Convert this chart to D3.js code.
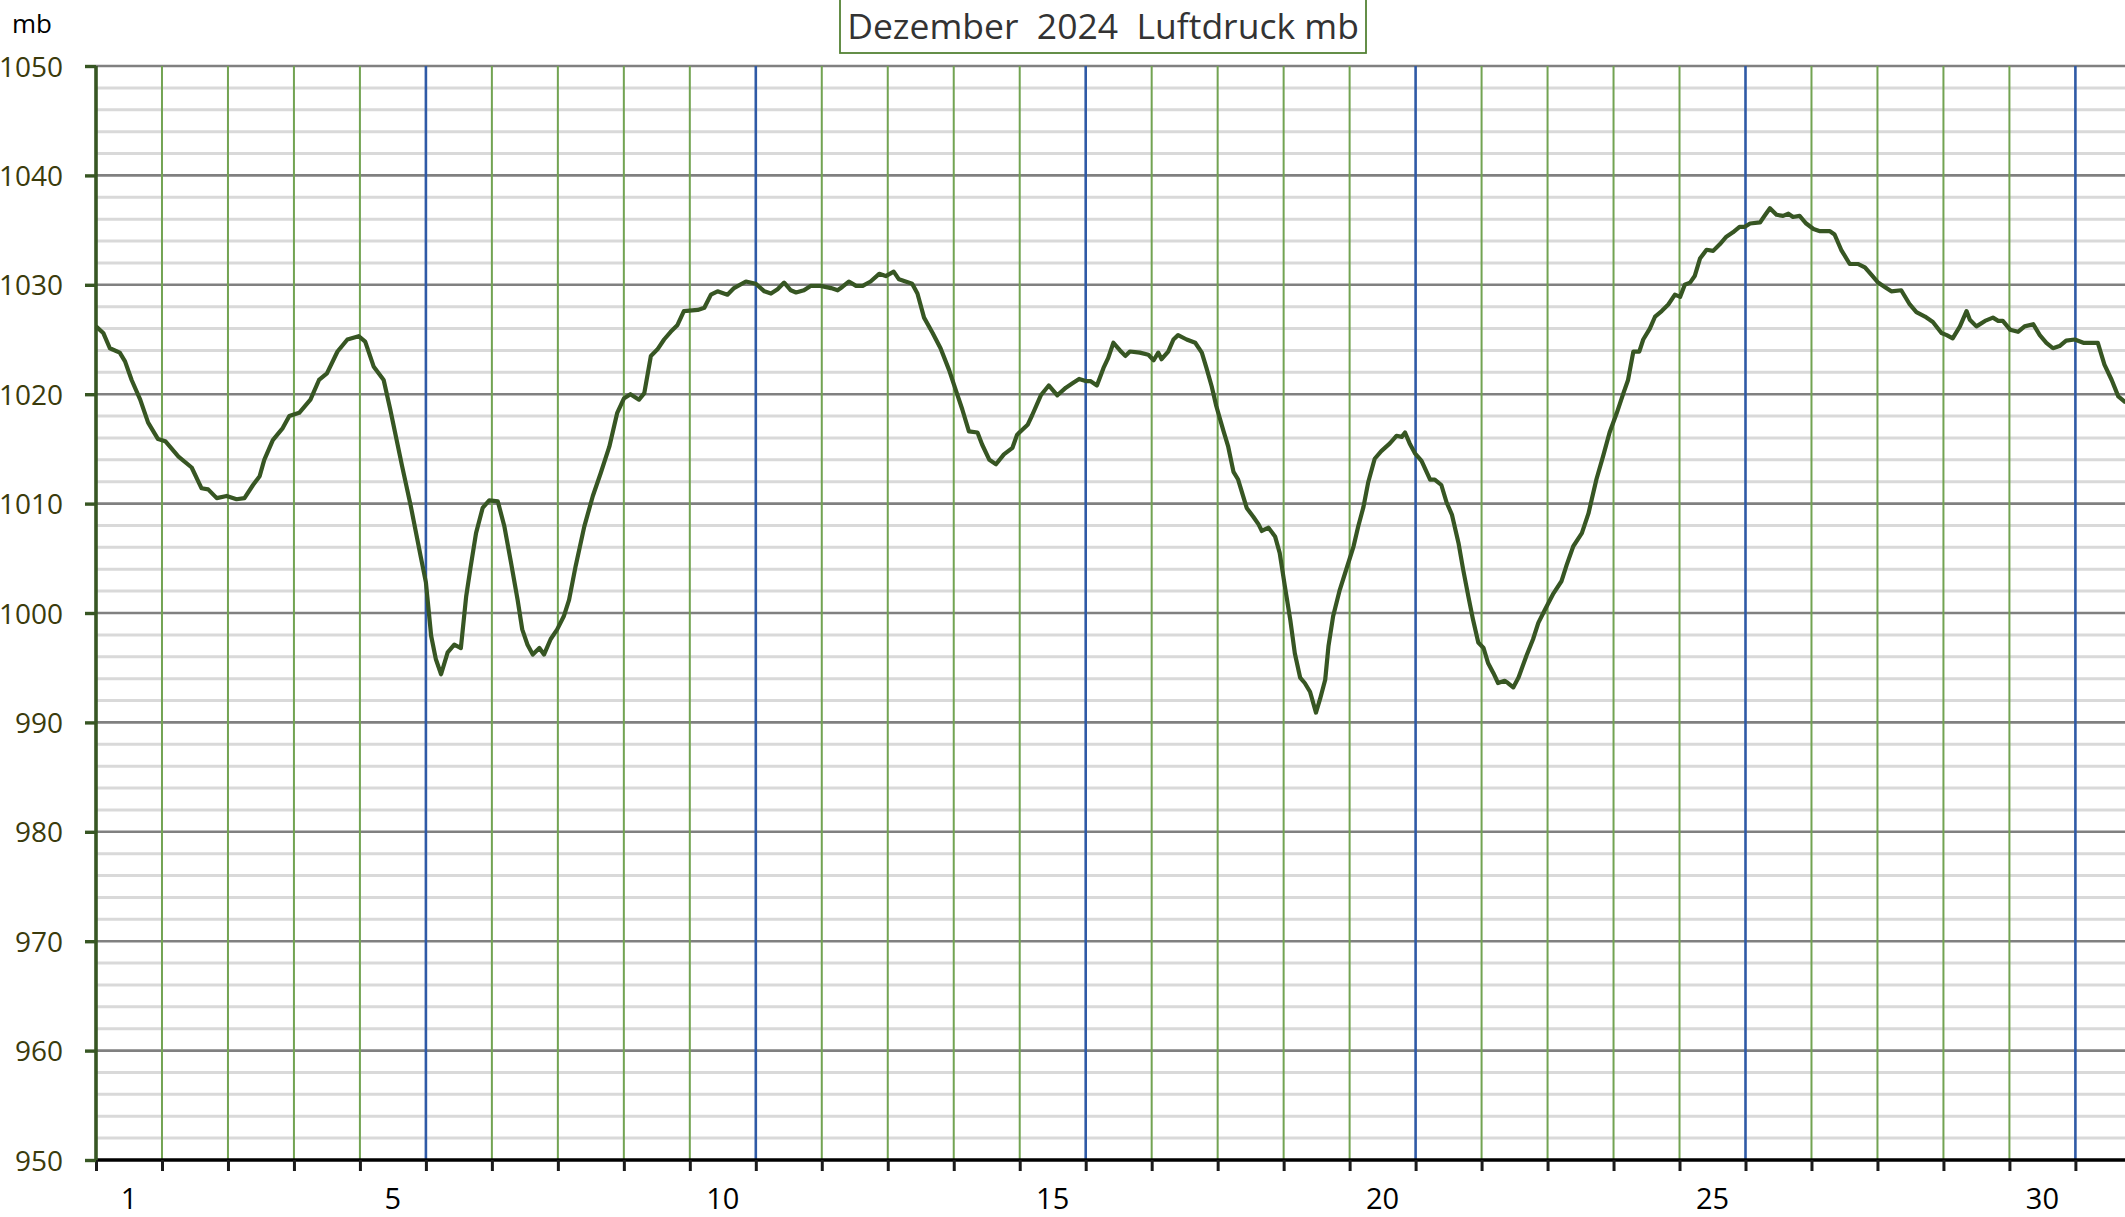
<!DOCTYPE html>
<html>
<head>
<meta charset="utf-8">
<script src="https://cdn.jsdelivr.net/npm/d3@7"></script>
<style>
  html, body { margin: 0; padding: 0; background: #ffffff; }
  svg { display: block; }
  text { font-family: "Open Sans", "Noto Sans", sans-serif; }
</style>
</head>
<body>
<svg id="chart" width="2125" height="1217"></svg>
<script>
// Air pressure record, December 2024 (time in days since 1 Dec 00:00, pressure in mb)
const dayOffsets = [
  0.00, 0.11, 0.21, 0.36, 0.44, 0.54, 0.67, 0.79, 0.94, 1.05, 1.25, 1.45, 1.60, 1.70, 1.83, 1.98,
  2.13, 2.25, 2.38, 2.48, 2.55, 2.68, 2.83, 2.93, 3.08, 3.25, 3.38, 3.50, 3.66, 3.81, 3.98, 4.08,
  4.21, 4.36, 4.46, 4.64, 4.77, 4.92, 5.00, 5.08, 5.15, 5.23, 5.33, 5.43, 5.53, 5.61, 5.68, 5.76,
  5.86, 5.96, 6.09, 6.19, 6.29, 6.39, 6.46, 6.54, 6.62, 6.72, 6.79, 6.89, 6.99, 7.09, 7.17, 7.27,
  7.40, 7.53, 7.65, 7.78, 7.90, 8.00, 8.10, 8.23, 8.31, 8.41, 8.51, 8.61, 8.71, 8.81, 8.91, 9.12,
  9.22, 9.32, 9.42, 9.57, 9.67, 9.85, 10.00, 10.13, 10.23, 10.33, 10.43, 10.53, 10.61, 10.73, 10.83, 10.98,
  11.14, 11.24, 11.31, 11.41, 11.52, 11.62, 11.74, 11.87, 11.97, 12.09, 12.17, 12.27, 12.37, 12.45, 12.55, 12.68,
  12.80, 12.93, 13.03, 13.13, 13.23, 13.36, 13.43, 13.54, 13.64, 13.76, 13.89, 13.96, 14.12, 14.19, 14.32, 14.44,
  14.57, 14.70, 14.80, 14.90, 15.00, 15.07, 15.17, 15.27, 15.34, 15.42, 15.52, 15.60, 15.67, 15.82, 15.95, 16.03,
  16.10, 16.15, 16.25, 16.33, 16.40, 16.53, 16.66, 16.76, 16.83, 16.91, 16.98, 17.09, 17.16, 17.24, 17.31, 17.44,
  17.54, 17.62, 17.67, 17.77, 17.87, 17.94, 18.02, 18.10, 18.17, 18.25, 18.32, 18.40, 18.49, 18.55, 18.63, 18.68,
  18.75, 18.85, 18.95, 19.06, 19.13, 19.21, 19.28, 19.38, 19.48, 19.61, 19.71, 19.79, 19.84, 19.91, 19.99, 20.09,
  20.22, 20.29, 20.39, 20.47, 20.55, 20.65, 20.72, 20.80, 20.87, 20.95, 21.03, 21.10, 21.18, 21.25, 21.35, 21.40,
  21.48, 21.56, 21.68, 21.78, 21.86, 21.96, 22.09, 22.21, 22.29, 22.39, 22.52, 22.62, 22.67, 22.74, 22.84, 22.94,
  23.05, 23.15, 23.22, 23.30, 23.39, 23.45, 23.55, 23.63, 23.73, 23.83, 23.93, 24.01, 24.08, 24.16, 24.23, 24.31,
  24.41, 24.51, 24.61, 24.71, 24.81, 24.91, 24.99, 25.07, 25.22, 25.30, 25.37, 25.47, 25.57, 25.65, 25.72, 25.82,
  25.92, 26.03, 26.13, 26.28, 26.35, 26.45, 26.58, 26.71, 26.81, 26.91, 27.01, 27.11, 27.21, 27.36, 27.49, 27.59,
  27.72, 27.84, 27.97, 28.05, 28.14, 28.25, 28.35, 28.40, 28.50, 28.63, 28.75, 28.83, 28.90, 29.01, 29.13, 29.23,
  29.36, 29.46, 29.56, 29.66, 29.76, 29.86, 29.99, 30.12, 30.24, 30.34, 30.44, 30.55, 30.65, 30.75, 30.80
];
const pressure = [
  1026.2, 1025.6, 1024.2, 1023.8, 1023.0, 1021.3, 1019.5, 1017.4, 1015.9, 1015.7, 1014.3, 1013.3, 1011.4, 1011.3, 1010.5, 1010.7,
  1010.4, 1010.5, 1011.7, 1012.5, 1014.0, 1015.8, 1016.9, 1018.0, 1018.3, 1019.5, 1021.3, 1021.9, 1023.9, 1025.0, 1025.3, 1024.8,
  1022.5, 1021.3, 1018.6, 1013.4, 1009.8, 1005.2, 1002.8, 997.9, 995.8, 994.4, 996.4, 997.1, 996.8, 1001.5, 1004.3, 1007.3,
  1009.6, 1010.3, 1010.2, 1007.9, 1004.6, 1001.2, 998.5, 997.1, 996.2, 996.8, 996.2, 997.6, 998.5, 999.7, 1001.2, 1004.3,
  1007.9, 1010.7, 1012.8, 1015.2, 1018.3, 1019.6, 1020.0, 1019.5, 1020.1, 1023.5, 1024.1, 1025.0, 1025.7, 1026.3, 1027.6, 1027.7,
  1027.9, 1029.1, 1029.4, 1029.1, 1029.7, 1030.3, 1030.1, 1029.4, 1029.2, 1029.6, 1030.2, 1029.5, 1029.3, 1029.5, 1029.9, 1029.9,
  1029.7, 1029.5, 1029.8, 1030.3, 1029.9, 1029.9, 1030.3, 1031.0, 1030.8, 1031.2, 1030.5, 1030.3, 1030.1, 1029.2, 1027.0, 1025.6,
  1024.2, 1022.2, 1020.4, 1018.6, 1016.6, 1016.5, 1015.4, 1014.0, 1013.6, 1014.5, 1015.1, 1016.3, 1017.2, 1018.1, 1019.9, 1020.8,
  1019.9, 1020.6, 1021.0, 1021.4, 1021.2, 1021.2, 1020.8, 1022.4, 1023.3, 1024.7, 1024.0, 1023.5, 1023.9, 1023.8, 1023.6, 1023.1,
  1023.8, 1023.2, 1023.9, 1025.0, 1025.4, 1025.0, 1024.7, 1023.8, 1022.4, 1020.7, 1018.9, 1016.6, 1015.2, 1012.9, 1012.2, 1009.6,
  1008.8, 1008.1, 1007.5, 1007.8, 1007.0, 1005.5, 1002.4, 999.4, 996.3, 994.1, 993.6, 992.8, 990.9, 992.1, 993.9, 997.0,
  999.7, 1002.1, 1004.0, 1006.1, 1007.9, 1009.7, 1011.9, 1014.1, 1014.8, 1015.5, 1016.2, 1016.1, 1016.5, 1015.5, 1014.6, 1013.9,
  1012.2, 1012.2, 1011.7, 1010.1, 1009.0, 1006.4, 1004.0, 1001.5, 999.4, 997.3, 996.8, 995.4, 994.5, 993.6, 993.8, 993.6,
  993.2, 994.1, 996.1, 997.6, 999.1, 1000.3, 1001.8, 1002.9, 1004.4, 1006.1, 1007.3, 1009.1, 1010.4, 1012.2, 1014.3, 1016.5,
  1018.3, 1020.1, 1021.3, 1023.9, 1023.9, 1025.0, 1026.0, 1027.1, 1027.6, 1028.2, 1029.1, 1028.9, 1030.0, 1030.2, 1030.8, 1032.4,
  1033.2, 1033.1, 1033.7, 1034.4, 1034.8, 1035.3, 1035.3, 1035.6, 1035.7, 1036.4, 1037.0, 1036.4, 1036.3, 1036.5, 1036.2, 1036.3,
  1035.6, 1035.1, 1034.9, 1034.9, 1034.6, 1033.2, 1031.9, 1031.9, 1031.6, 1030.9, 1030.2, 1029.8, 1029.4, 1029.5, 1028.2, 1027.5,
  1027.1, 1026.6, 1025.6, 1025.4, 1025.1, 1026.2, 1027.6, 1026.8, 1026.2, 1026.7, 1027.0, 1026.7, 1026.7, 1025.9, 1025.7, 1026.2,
  1026.4, 1025.4, 1024.7, 1024.2, 1024.4, 1024.9, 1025.0, 1024.7, 1024.7, 1024.7, 1022.7, 1021.3, 1019.8, 1019.3, 1019.2
];

// Axis ticks and labels
const majorTicks = [950, 960, 970, 980, 990, 1000, 1010, 1020, 1030, 1040, 1050];
const minorTicks = d3.range(952, 1050, 2).filter(v => v % 10 !== 0);
const dayBoundaries = d3.range(0, 32);      // midnight of each day
const labeledDays = [1, 5, 10, 15, 20, 25, 30];
const titleText = "Dezember  2024  Luftdruck mb";
const unitText = "mb";

const svg = d3.select("#chart");
const W = 2125, H = 1217;
const m = { left: 96, top: 66, bottom: 1160 };
const dayWidth = 65.98;

const x = d3.scaleLinear().domain([0, 31]).range([m.left, m.left + 31 * dayWidth]);
const y = d3.scaleLinear().domain([950, 1050]).range([m.bottom, m.top]);

const grid = svg.append("g");

// light minor pressure lines every 2 mb
grid.selectAll("line.minor").data(minorTicks).join("line")
  .attr("x1", m.left).attr("x2", W)
  .attr("y1", d => y(d)).attr("y2", d => y(d))
  .attr("stroke", "#d9d9d9").attr("stroke-width", 3);

// major pressure lines every 10 mb
grid.selectAll("line.major").data(majorTicks.filter(v => v !== 950)).join("line")
  .attr("x1", m.left).attr("x2", W)
  .attr("y1", d => y(d)).attr("y2", d => y(d))
  .attr("stroke", "#808080").attr("stroke-width", 2.6);

// day lines: green, blue after every fifth day
grid.selectAll("line.day").data(dayBoundaries.filter(d => d > 0)).join("line")
  .attr("x1", d => x(d)).attr("x2", d => x(d))
  .attr("y1", m.top).attr("y2", m.bottom)
  .attr("stroke", d => d % 5 === 0 ? "#2f5aa6" : "#72a352")
  .attr("stroke-width", d => d % 5 === 0 ? 2.6 : 2);

// bottom axis with a tick at every midnight
const xAxis = svg.append("g")
  .attr("transform", `translate(0,${m.bottom})`)
  .call(d3.axisBottom(x).tickValues(dayBoundaries).tickSize(11).tickFormat(""));
xAxis.select(".domain").attr("stroke", "#000").attr("stroke-width", 3.4)
  .attr("d", `M${m.left},0H${W}`);
xAxis.selectAll(".tick line").attr("stroke", "#1a1a1a").attr("stroke-width", 3);

// day numbers under the middle of their day
svg.append("g").selectAll("text").data(labeledDays).join("text")
  .attr("x", d => x(d - 0.5))
  .attr("y", 1209)
  .attr("text-anchor", "middle")
  .attr("font-size", 29)
  .attr("fill", "#000")
  .text(d => d);

// left axis
const yAxis = svg.append("g")
  .attr("transform", `translate(${m.left},0)`)
  .call(d3.axisLeft(y).tickValues(majorTicks).tickSize(11).tickPadding(22).tickFormat(d3.format("d")));
yAxis.select(".domain").attr("stroke", "#375623").attr("stroke-width", 3.6)
  .attr("d", `M0,${m.top}V${m.bottom}`);
yAxis.selectAll(".tick line").attr("stroke", "#375623").attr("stroke-width", 3.4);
yAxis.selectAll(".tick text")
  .attr("font-family", "'Open Sans', sans-serif")
  .attr("font-size", 28)
  .attr("fill", "#3b3b0c")
  .attr("dy", "0.36em");

svg.append("text")
  .attr("x", 12).attr("y", 33)
  .attr("font-size", 26)
  .attr("fill", "#000")
  .text(unitText);

// pressure curve
const points = dayOffsets.map((t, i) => [t, pressure[i]]);
svg.append("path")
  .datum(points)
  .attr("fill", "none")
  .attr("stroke", "#375623")
  .attr("stroke-width", 4.2)
  .attr("stroke-linejoin", "round")
  .attr("d", d3.line().x(d => x(d[0])).y(d => y(d[1])));

// title box
const title = svg.append("g");
title.append("rect")
  .attr("x", 840).attr("y", -2).attr("width", 526).attr("height", 55)
  .attr("fill", "#fff").attr("stroke", "#548235").attr("stroke-width", 1.8);
title.append("text")
  .attr("x", 1103).attr("y", 39)
  .attr("text-anchor", "middle")
  .attr("font-size", 35.5)
  .attr("fill", "#333")
  .style("white-space", "pre")
  .text(titleText);
</script>
</body>
</html>
